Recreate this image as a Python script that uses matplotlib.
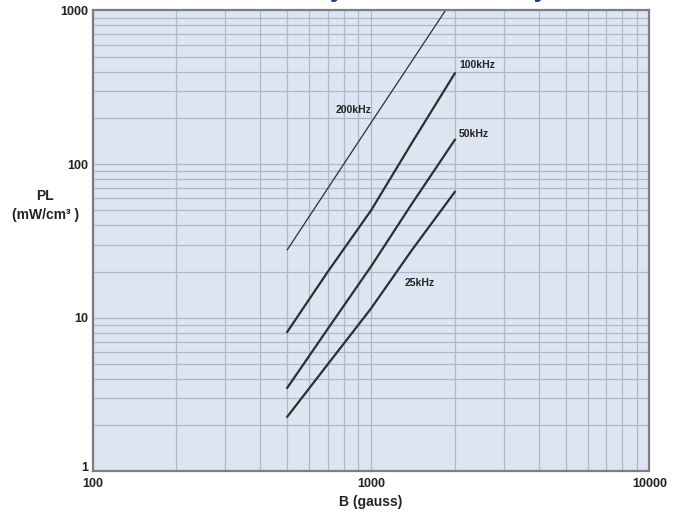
import matplotlib
matplotlib.use("Agg")
import matplotlib.pyplot as plt
import matplotlib.ticker as mticker

# ---------------------------------------------------------------------------
# Data (B in gauss, PL in mW/cm3)
# ---------------------------------------------------------------------------
b_200k  = [500, 1000, 1850]
pl_200k = [27.7, 186, 1000]

b_low   = [500, 700, 1000, 1400, 2000]
pl_100k = [8.1, 20, 50, 137, 390]
pl_50k  = [3.5, 8.5, 21.6, 55, 144]
pl_25k  = [2.27, 5.0, 11.5, 27.5, 66]

labels  = ["200kHz", "100kHz", "50kHz", "25kHz"]

x_ticks = [100, 1000, 10000]
y_ticks = [1, 10, 100, 1000]

FONT = ["Liberation Sans", "DejaVu Sans"]
plt.rcParams["font.family"] = FONT

fig = plt.figure(figsize=(6.74, 5.14), dpi=100)
ax = fig.add_axes([0.1375, 0.0827, 0.826, 0.8969])
ax.set_facecolor("#dde5f1")

ax.set_xscale("log")
ax.set_yscale("log")
ax.set_xlim(100, 10000)
ax.set_ylim(1, 1000)

ax.grid(True, which="both", axis="both", color="#aeb8cb", lw=0.9)
ax.set_axisbelow(True)

line_col = "#2e2e33"
ax.plot(b_200k, pl_200k, color=line_col, lw=0.9)
ax.plot(b_low, pl_100k, color=line_col, lw=1.6)
ax.plot(b_low, pl_50k,  color=line_col, lw=1.6)
ax.plot(b_low, pl_25k,  color=line_col, lw=1.6)

# curve labels
lab_pos = [(863, 225), (2400, 441), (2334, 157), (1500, 16.9)]
for txt, (x, y) in zip(labels, lab_pos):
    ax.text(x, y, txt, fontsize=7.5, fontweight="bold", color="#222222",
            ha="center", va="center")

ax.xaxis.set_major_locator(mticker.FixedLocator(x_ticks))
ax.yaxis.set_major_locator(mticker.FixedLocator(y_ticks))
ax.xaxis.set_major_formatter(mticker.FixedFormatter([str(v) for v in x_ticks]))
ax.yaxis.set_major_formatter(mticker.FixedFormatter([str(v) for v in y_ticks]))
ax.tick_params(which="both", length=0, labelsize=9)
ax.tick_params(axis="x", pad=5)
ax.tick_params(axis="y", pad=3)
for lab in ax.get_xticklabels() + ax.get_yticklabels():
    lab.set_fontweight("bold")
    lab.set_color("#222222")
# the "1" sits just above the axis corner in the original
ax.get_yticklabels()[0].set_va("baseline")

for s in ax.spines.values():
    s.set_color("#7d7d82")
    s.set_linewidth(1.6)

ax.set_xlabel("B (gauss)", fontsize=10, fontweight="bold", color="#222222", labelpad=3)
fig.text(0.067, 0.60, "PL\n(mW/cm³ )", fontsize=10, fontweight="bold",
         color="#222222", ha="center", va="center", linespacing=1.45)

# title cut off at the top of the original picture: only descenders show
fig.text(0.494, 1.006, "Core Loss Density vs. Flux Density", fontsize=18.5,
         fontweight="bold", color="#1f3a8a", ha="center", va="baseline")

fig.savefig("out.png", dpi=100)
